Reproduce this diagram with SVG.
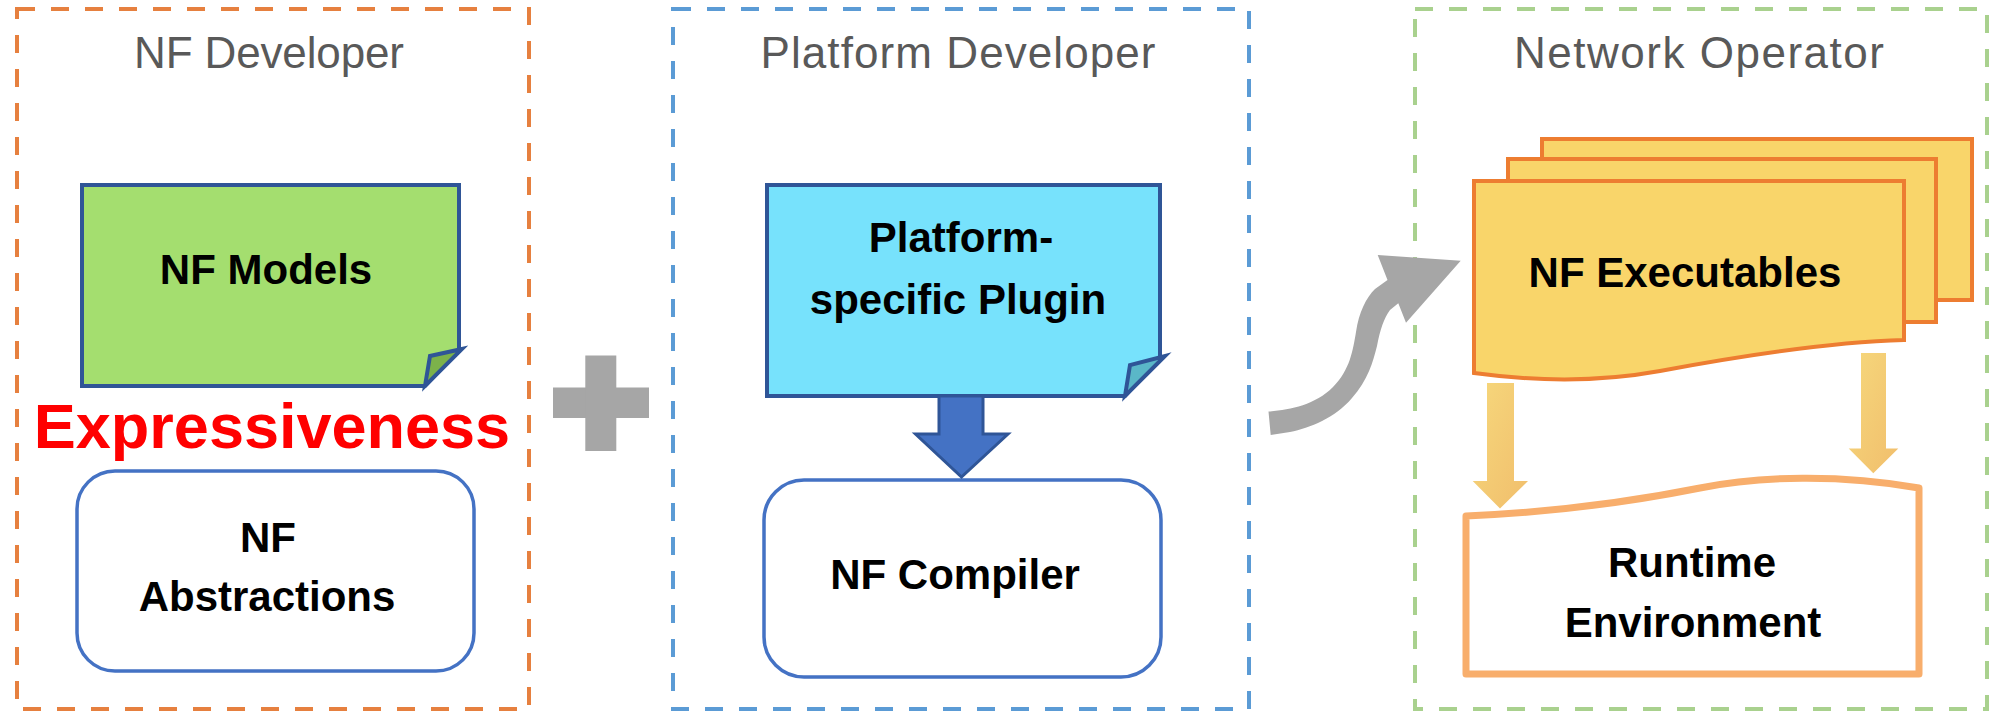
<svg xmlns="http://www.w3.org/2000/svg" width="1989" height="713" viewBox="0 0 1989 713">
<defs>
<style>
.lane{fill:none;stroke-width:4;stroke-dasharray:18 16}
.title{font-family:"Liberation Sans",Arial,sans-serif;font-size:44px;fill:#595959;text-anchor:middle}
.lbl{font-family:"Liberation Sans",Arial,sans-serif;font-size:42px;font-weight:bold;fill:#000;text-anchor:middle}
.note{stroke:#2F5597;stroke-width:4;stroke-linejoin:miter}
.rbox{fill:#fff;stroke:#4472C4;stroke-width:3.5}
.gray{fill:#A6A6A6}
.oarrow{fill:url(#og)}
</style>
<linearGradient id="og" x1="0" y1="0" x2="1" y2="1">
<stop offset="0" stop-color="#F6D87C"/>
<stop offset="1" stop-color="#F1BE6C"/>
</linearGradient>
</defs>
<rect width="1989" height="713" fill="#fff"/>

<g id="lane-nf-developer">
<rect class="lane" x="17" y="9" width="512" height="700" stroke="#E6803F"/>
<text class="title" x="269" y="68" textLength="270" lengthAdjust="spacing">NF Developer</text>
</g>
<g id="lane-platform-developer">
<rect class="lane" x="673" y="9" width="576" height="700" stroke="#5B9BD5"/>
<text class="title" x="958" y="68" textLength="395" lengthAdjust="spacing">Platform Developer</text>
</g>
<g id="lane-network-operator">
<rect class="lane" x="1415" y="9" width="572" height="700" stroke="#A9D18E"/>
<text class="title" x="1699" y="68" textLength="370" lengthAdjust="spacing">Network Operator</text>
</g>

<g id="nf-models">
<path class="note" d="M82,185 H459 V350 L425,386 H82 Z" fill="#A4DE6F"/>
<path class="note" d="M425,386 L430,356 L462,349 Z" fill="#7CB24A"/>
<text class="lbl" x="266" y="284">NF Models</text>
</g>

<g id="expressiveness">
<text x="272" y="448" font-family="Liberation Sans,Arial,sans-serif" font-size="63" font-weight="bold" fill="#FF0000" text-anchor="middle">Expressiveness</text>
</g>

<g id="nf-abstractions">
<rect class="rbox" x="77" y="471" width="397" height="200" rx="38" ry="38"/>
<text class="lbl" x="268" y="552">NF</text>
<text class="lbl" x="267" y="611">Abstractions</text>
</g>

<g id="plus">
<rect class="gray" x="553" y="387.5" width="96" height="30.5"/>
<rect class="gray" x="585.3" y="355.5" width="31" height="95.5"/>
</g>

<g id="platform-plugin">
<path class="note" d="M767,185 H1160 V357 L1125,396 H767 Z" fill="#77E2FC"/>
<path class="note" d="M1125,396 L1130,365 L1165,356 Z" fill="#5AB7C8"/>
<text class="lbl" x="961" y="252">Platform-</text>
<text class="lbl" x="958" y="314">specific Plugin</text>
</g>

<g id="nf-compiler">
<rect class="rbox" x="764" y="480" width="397" height="197" rx="40" ry="40"/>
<text class="lbl" x="955" y="589">NF Compiler</text>
</g>

<g id="nf-executables">
<rect x="1542" y="139" width="430" height="161" fill="#F9D56A" stroke="#ED7D31" stroke-width="4"/>
<rect x="1508" y="159" width="428" height="163" fill="#F9D56A" stroke="#ED7D31" stroke-width="4"/>
<path d="M1474,181 H1904 V340 C1830,342 1740,356 1660,371 C1600,382 1540,382 1474,373 Z" fill="#F9D56A" stroke="#ED7D31" stroke-width="4"/>
<text class="lbl" x="1685" y="287">NF Executables</text>
</g>

<g id="runtime-environment">
<path d="M1466,516 C1560,512 1640,500 1700,488 C1760,476 1840,474 1919,488 V674 H1466 Z" fill="#fff" stroke="#F8AE6C" stroke-width="7" stroke-linejoin="round"/>
<text class="lbl" x="1692" y="577">Runtime</text>
<text class="lbl" x="1693" y="637">Environment</text>
</g>

<g id="connectors">
<path d="M939,396 H983 V434 H1008 L961.5,477 L915.5,434 H939 Z" fill="#4472C4" stroke="#2F5597" stroke-width="3" stroke-linejoin="miter"/>
<path class="gray" d="M1268.5,411.5 C1290,410 1315,405 1333,387 C1350,370 1353,350 1356,332 C1359,312 1366,298 1375,289 L1387.5,280 L1377.7,255 L1460.7,260.7 L1406,322.7 L1398.3,303.3 L1390,310 C1384,318 1380,330 1377,346 C1373,362 1368,380 1352,398 C1335,418 1310,428 1290,432 L1270.7,435 Z"/>
<path class="oarrow" d="M1487,383 H1514 V481 H1528 L1500,508.5 L1472.7,481 H1487 Z"/>
<path class="oarrow" d="M1861,353 H1886 V448.5 H1898.3 L1873.3,473.3 L1848.7,448.5 H1861 Z"/>
</g>
</svg>
